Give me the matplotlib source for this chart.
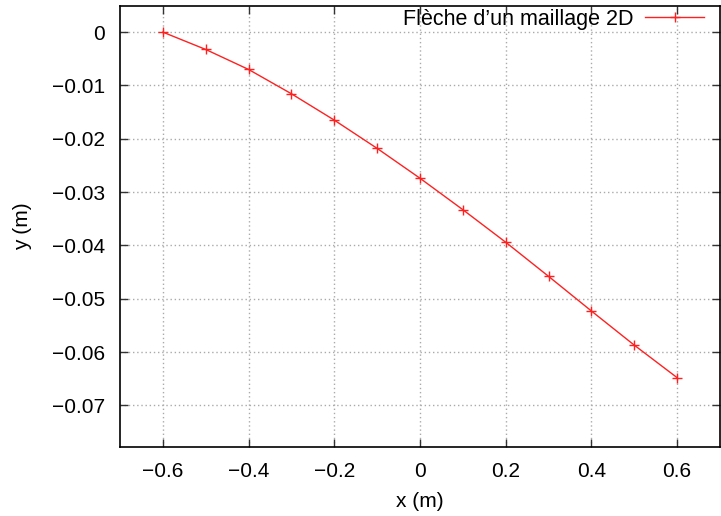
import matplotlib
matplotlib.use("Agg")
import matplotlib.pyplot as plt

# valeurs
x = [-0.6, -0.5, -0.4, -0.3, -0.2, -0.1, 0.0, 0.1, 0.2, 0.3, 0.4, 0.5, 0.6]
y = [0.0, -0.00325, -0.0070, -0.01156, -0.0165, -0.0218, -0.0274,
     -0.0333, -0.0394, -0.0458, -0.0523, -0.0587, -0.0648]
xticks = [-0.6, -0.4, -0.2, 0, 0.2, 0.4, 0.6]
yticks = [0, -0.01, -0.02, -0.03, -0.04, -0.05, -0.06, -0.07]
label = "Flèche d\u2019un maillage 2D"

plt.rcParams['font.family'] = ['Liberation Sans', 'DejaVu Sans']
plt.rcParams['axes.unicode_minus'] = True

fig = plt.figure(figsize=(7.21, 5.16), dpi=100)
ax = fig.add_axes([120/721, 1-447/516, 600/721, 441/516])

ax.plot(x, y, color='#ff2020', lw=1.0, marker='+', ms=6.5, mew=1.0, label=label)

ax.set_xlim(-0.7, 0.7)
ax.set_ylim(-0.0778, 0.0049)
ax.set_xticks(xticks)
ax.set_yticks(yticks)
ax.set_xticklabels(["\u22120.6", "\u22120.4", "\u22120.2", "0", "0.2", "0.4", "0.6"])
ax.set_yticklabels(["0", "\u22120.01", "\u22120.02", "\u22120.03", "\u22120.04",
                    "\u22120.05", "\u22120.06", "\u22120.07"])
ax.tick_params(direction='in', length=6, width=1, labelsize=15, top=True, right=True,
               pad=11, color='#333333')
ax.grid(True, color='#aaaaaa', linestyle=(0, (1, 2)), linewidth=1)
for s in ax.spines.values():
    s.set_linewidth(1.2)

ax.set_xlabel("x (m)", fontsize=15, labelpad=8)
ax.set_ylabel("y (m)", fontsize=15, labelpad=14)

ax.legend(loc='upper right', frameon=False, markerfirst=False, fontsize=15.5,
          handlelength=2.75, borderaxespad=0, bbox_to_anchor=(0.988, 1.0136),
          handletextpad=0.55)

fig.savefig("out.png", dpi=100)
